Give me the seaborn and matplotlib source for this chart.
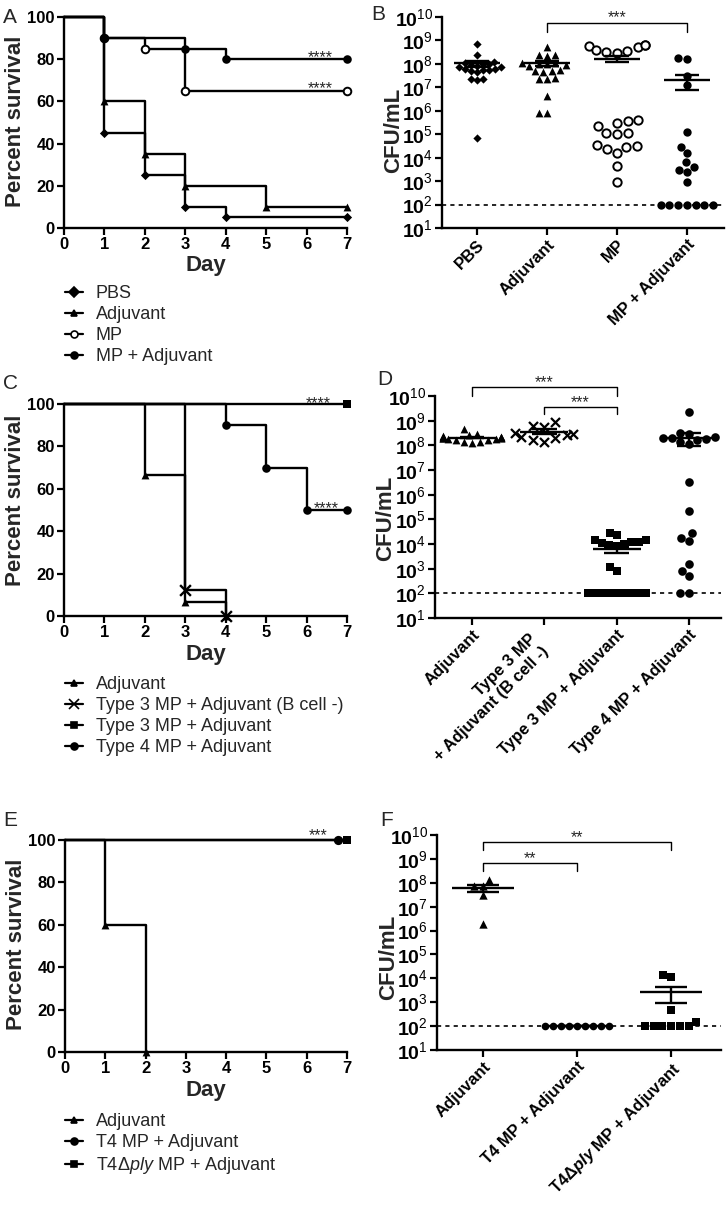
import warnings
warnings.filterwarnings('ignore')
import numpy as np
import pandas as pd
import matplotlib
matplotlib.use('Agg')
import matplotlib.pyplot as plt
import matplotlib.ticker as mticker
import matplotlib.transforms as mtransforms
from matplotlib.lines import Line2D
import seaborn as sns

sns.set_theme(style='ticks')
plt.rcParams['font.family'] = ['Liberation Sans', 'DejaVu Sans']
plt.rcParams['mathtext.fontset'] = 'custom'
plt.rcParams['mathtext.rm'] = 'Liberation Sans'
plt.rcParams['mathtext.bf'] = 'Liberation Sans:bold'
plt.rcParams['mathtext.it'] = 'Liberation Sans:italic'
plt.rcParams['mathtext.bfit'] = 'Liberation Sans:italic:bold'

# ---------------- data ----------------
# Panel A: survival (%)
a_pbs_day = [0, 1, 2, 3, 4, 7];   a_pbs_surv = [100, 45, 25, 10, 5, 5]
a_adj_day = [0, 1, 2, 3, 5, 7];   a_adj_surv = [100, 60, 35, 20, 10, 10]
a_mp_day = [0, 1, 2, 3, 7];       a_mp_surv = [100, 90, 85, 65, 65]
a_mpadj_day = [0, 1, 3, 4, 7];    a_mpadj_surv = [100, 90, 85, 80, 80]
a_labels = ['PBS', 'Adjuvant', 'MP', 'MP + Adjuvant']

# Panel B: log10 CFU/mL
b_cats = ['PBS', 'Adjuvant', 'MP', 'MP + Adjuvant']
b_pbs = [8.85, 8.4, 8.1, 8.05, 8.0, 8.0, 7.95, 7.9, 7.85, 7.85, 7.8, 7.8, 7.75, 7.75,
         7.7, 7.65, 7.35, 7.3, 7.35, 4.83]
b_adj = [8.72, 8.4, 8.35, 8.38, 8.05, 8.05, 8.0, 8.0, 7.95, 7.9, 7.75, 7.7, 7.7, 7.65,
         7.35, 7.35, 7.4, 6.65, 5.9, 5.92]
b_mp = [8.8, 8.75, 8.6, 8.5, 8.45, 8.55, 8.7, 8.8, 5.5, 5.6, 5.35, 5.05, 5.0, 5.05,
        5.55, 4.55, 4.45, 4.2, 4.35, 4.5, 3.65, 2.98]
b_mpadj = [8.25, 8.2, 7.5, 7.1, 5.1, 4.47, 4.22, 3.8, 3.6, 3.48, 3.37, 2.98,
           2, 2, 2, 2, 2, 2, 2]

# Panel C: survival (%)
c_adj_day = [0, 2, 3, 4];         c_adj_surv = [100, 66.7, 6.7, 0]
c_t3b_day = [0, 3, 4];            c_t3b_surv = [100, 12.5, 0]
c_t3_day = [0, 7];                c_t3_surv = [100, 100]
c_t4_day = [0, 4, 5, 6, 7];       c_t4_surv = [100, 90, 70, 50, 50]
c_labels = ['Adjuvant', 'Type 3 MP + Adjuvant (B cell -)', 'Type 3 MP + Adjuvant',
            'Type 4 MP + Adjuvant']

# Panel D: log10 CFU/mL
d_cats = ['Adjuvant', 'Type 3 MP\n+ Adjuvant (B cell -)', 'Type 3 MP + Adjuvant',
          'Type 4 MP + Adjuvant']
d_adj = [8.65, 8.45, 8.4, 8.38, 8.35, 8.35, 8.33, 8.3, 8.3, 8.3, 8.28, 8.28, 8.25,
         8.25, 8.22, 8.2, 8.15, 8.12, 8.1]
d_t3b = [8.95, 8.75, 8.78, 8.5, 8.45, 8.4, 8.35, 8.2, 8.15, 8.3]
d_t3 = [4.45, 4.35, 4.15, 4.1, 4.05, 4.0, 3.95, 3.9, 4.1, 4.15, 3.05, 2.9,
        2, 2, 2, 2, 2, 2, 2, 2, 2, 2, 2, 2]
d_t4 = [9.34, 8.3, 8.35, 8.25, 8.5, 8.3, 8.15, 8.2, 8.45, 8.05, 6.5, 5.35, 4.45,
        4.25, 4.12, 3.18, 2.9, 2.7, 2.0, 2.0]

# Panel E: survival (%)
e_adj_day = [0, 1, 2];            e_adj_surv = [100, 60, 0]
e_t4_day = [0, 7];                e_t4_surv = [100, 100]
e_ply_day = [0, 7];               e_ply_surv = [100, 100]
e_labels = ['Adjuvant', 'T4 MP + Adjuvant', 'T4\u0394$\\mathit{ply}$ MP + Adjuvant']

# Panel F: log10 CFU/mL
f_cats = ['Adjuvant', 'T4 MP + Adjuvant', 'T4\u0394$\\mathbfit{ply}$ MP + Adjuvant']
f_adj = [8.12, 7.85, 7.88, 7.5, 6.28]
f_t4 = [2, 2, 2, 2, 2, 2, 2, 2, 2]
f_ply = [4.14, 4.04, 2.68, 2.16, 2, 2, 2, 2, 2, 2]

detection_limit = 100

# ---------------- layout ----------------
W, H = 727, 1205
fig = plt.figure(figsize=(W / 100, H / 100), dpi=100)
fig.patch.set_facecolor('white')


def add_ax(l, r, t, b):
    return fig.add_axes([l / W, 1 - b / H, (r - l) / W, (b - t) / H])


def style_ax(ax):
    sns.despine(ax=ax)
    for s in ['left', 'bottom']:
        ax.spines[s].set_linewidth(1.7)
        ax.spines[s].set_color('black')
    ax.tick_params(direction='out', length=5, width=1.6, colors='black', pad=1.5,
                   labelsize=12)
    ax.set_facecolor('white')
    ax.grid(False)


def survival_panel(ax, series, labels, legend_left, legend_top, stars, ylab_y):
    handles = []
    for (days, surv, marker, face, size, lw, dx) in series:
        sns.lineplot(x=days, y=surv, drawstyle='steps-post', estimator=None, sort=False,
                     color='black', linewidth=1.7, ax=ax, clip_on=False, legend=False)
        kws = dict(marker=marker, s=size, ax=ax, clip_on=False, zorder=4, legend=False)
        if marker == 'x':
            sns.scatterplot(x=np.array(days[1:]) + dx, y=surv[1:], color='black',
                            linewidth=lw, **kws)
        else:
            sns.scatterplot(x=np.array(days[1:]) + dx, y=surv[1:], color=face,
                            edgecolor='black', linewidth=lw, **kws)
        handles.append(Line2D([0], [0], color='black', lw=1.6, marker=marker,
                              markersize=5 if marker != 'x' else 7,
                              markerfacecolor=face, markeredgecolor='black',
                              markeredgewidth=1.2))
    ax.set_xlim(0, 7)
    ax.set_ylim(0, 100)
    ax.set_xticks(range(8))
    ax.set_yticks(range(0, 101, 20))
    style_ax(ax)
    for lab in ax.get_xticklabels() + ax.get_yticklabels():
        lab.set_fontweight('bold')
    ax.set_xlabel('Day', fontsize=16, fontweight='bold', va='top')
    ax.xaxis.set_label_coords(0.5, -0.13)
    ax.set_ylabel('Percent survival', fontsize=16, fontweight='bold')
    ax.yaxis.set_label_coords(-0.135, ylab_y)
    for (x, y, txt, off) in stars:
        ax.annotate(txt, xy=(x, y), xytext=(0, off), textcoords='offset points',
                    ha='center', va='baseline', fontsize=11.5, annotation_clip=False)
    ax.legend(handles, labels, loc='upper left',
              bbox_to_anchor=(legend_left / W, 1 - legend_top / H),
              bbox_transform=fig.transFigure, frameon=False, fontsize=13,
              handlelength=1.0, handletextpad=0.7, labelspacing=0.22,
              borderpad=0, borderaxespad=0)


def cfu_panel(ax, cats, groups, xlim, brackets, ylab_y, label_shift=None):
    for i, (vals, marker, face, size, lw) in enumerate(groups):
        df = pd.DataFrame({'group': [cats[i]] * len(vals),
                           'cfu': 10.0 ** np.array(vals)})
        kws = dict(data=df, x='group', y='cfu', order=cats, marker=marker, size=size,
                   ax=ax, log_scale=(False, True), warn_thresh=1, zorder=3)
        if marker == 'x':
            sns.swarmplot(color='black', linewidth=lw, **kws)
        elif face == 'white':
            sns.swarmplot(color='white', edgecolor='black', linewidth=lw, **kws)
        else:
            sns.swarmplot(color='black', linewidth=0, **kws)
        lin = 10.0 ** np.array(vals)
        m = lin.mean()
        se = lin.std(ddof=1) / np.sqrt(len(lin))
        ax.hlines(m, i - 0.33, i + 0.33, color='black', lw=1.7, zorder=5)
        ax.vlines(i, m - se, m + se, color='black', lw=1.7, zorder=5)
        ax.hlines([m - se, m + se], i - 0.17, i + 0.17, color='black', lw=1.7, zorder=5)
    ax.axhline(detection_limit, color='black', lw=1.2, ls=(0, (2.5, 2.5)), zorder=2)
    ax.set_yscale('log')
    ax.set_ylim(10, 1e10)
    ax.set_xlim(*xlim)
    ax.set_yticks([10.0 ** k for k in range(1, 11)])
    ax.set_yticklabels(['$\\mathbf{10}^{%d}$' % k for k in range(1, 11)], fontsize=14)
    ax.yaxis.set_minor_locator(mticker.NullLocator())
    ax.set_xticks(range(len(cats)))
    ax.set_xticklabels(cats, rotation=45, ha='right', va='top', rotation_mode='anchor',
                       fontsize=13.5, fontweight='bold', multialignment='right')
    style_ax(ax)
    ax.tick_params(axis='y', labelsize=14)
    if label_shift is not None:
        idx, dx, dy = label_shift
        lab = ax.get_xticklabels()[idx]
        lab.set_transform(lab.get_transform() +
                          mtransforms.ScaledTranslation(dx / 100, dy / 100,
                                                        fig.dpi_scale_trans))
    ax.set_xlabel('')
    ax.set_ylabel('CFU/mL', fontsize=16, fontweight='bold')
    ax.yaxis.set_label_coords(-0.135, ylab_y)
    for (x1, x2, y, yl1, yl2, txt) in brackets:
        ax.plot([x1, x1, x2, x2], [10 ** yl1, 10 ** y, 10 ** y, 10 ** yl2],
                color='black', lw=1.0, clip_on=False)
        ax.annotate(txt, xy=((x1 + x2) / 2, 10 ** y), xytext=(0, 0),
                    textcoords='offset points', ha='center', va='baseline',
                    fontsize=11.5, annotation_clip=False)


# Panel A
axA = add_ax(64, 347, 17, 228)
survival_panel(axA,
               [(a_pbs_day, a_pbs_surv, 'D', 'black', 22, 0, 0),
                (a_adj_day, a_adj_surv, '^', 'black', 32, 0, 0),
                (a_mp_day, a_mp_surv, 'o', 'white', 30, 1.4, 0),
                (a_mpadj_day, a_mpadj_surv, 'o', 'black', 38, 0, 0)],
               a_labels, 65, 285,
               [(6.33, 80, '****', -2), (6.33, 65, '****', -2)], 0.507)

# Panel B
axB = add_ax(442, 724, 17, 228)
cfu_panel(axB, b_cats,
          [(b_pbs, 'D', 'black', 4.2, 0), (b_adj, '^', 'black', 5.6, 0),
           (b_mp, 'o', 'white', 6.0, 1.4), (b_mpadj, 'o', 'black', 6.0, 0)],
          (-0.5, 3.53), [(1, 3, 9.76, 9.37, 9.37, '***')], 0.464)

# Panel C
axC = add_ax(64, 347, 404, 616)
survival_panel(axC,
               [(c_adj_day, c_adj_surv, '^', 'black', 32, 0, 0),
                (c_t3b_day, c_t3b_surv, 'x', 'black', 60, 1.7, 0),
                (c_t3_day, c_t3_surv, 's', 'black', 30, 0, 0),
                (c_t4_day, c_t4_surv, 'o', 'black', 38, 0, 0)],
               c_labels, 65, 676,
               [(6.29, 100, '****', -3), (6.49, 50, '****', -2)], 0.547)

# Panel D
axD = add_ax(435, 721, 396, 618)
cfu_panel(axD, d_cats,
          [(d_adj, '^', 'black', 5.6, 0), (d_t3b, 'x', 'black', 6.5, 1.6),
           (d_t3, 's', 'black', 5.2, 0), (d_t4, 'o', 'black', 6.2, 0)],
          (-0.51, 3.44),
          [(0, 2, 10.36, 10.0, 10.0, '***'), (1, 2, 9.55, 9.27, 9.27, '***')], 0.45,
          label_shift=(1, -16, -4))

# Panel E
axE = add_ax(65, 347, 840, 1052)
survival_panel(axE,
               [(e_adj_day, e_adj_surv, '^', 'black', 32, 0, 0),
                (e_t4_day, e_t4_surv, 'o', 'black', 44, 0, -0.22),
                (e_ply_day, e_ply_surv, 's', 'black', 32, 0, 0)],
               e_labels, 65, 1113,
               [(6.28, 100, '***', 0)], 0.51)

# Panel F
axF = add_ax(437, 721, 835, 1050)
cfu_panel(axF, f_cats,
          [(f_adj, '^', 'black', 6, 0), (f_t4, 'o', 'black', 5.5, 0),
           (f_ply, 's', 'black', 6, 0)],
          (-0.49, 2.53),
          [(0, 2, 9.72, 9.37, 9.37, '**'), (0, 1, 8.84, 8.51, 8.51, '**')], 0.433)

# panel letters
for letter, x, y in [('A', 3, 23), ('B', 371, 20), ('C', 3, 389), ('D', 377, 385),
                     ('E', 3, 826), ('F', 380, 826)]:
    fig.text(x / W, 1 - y / H, letter, fontsize=15, va='baseline', ha='left')

fig.savefig('out.png', dpi=100, facecolor='white')
